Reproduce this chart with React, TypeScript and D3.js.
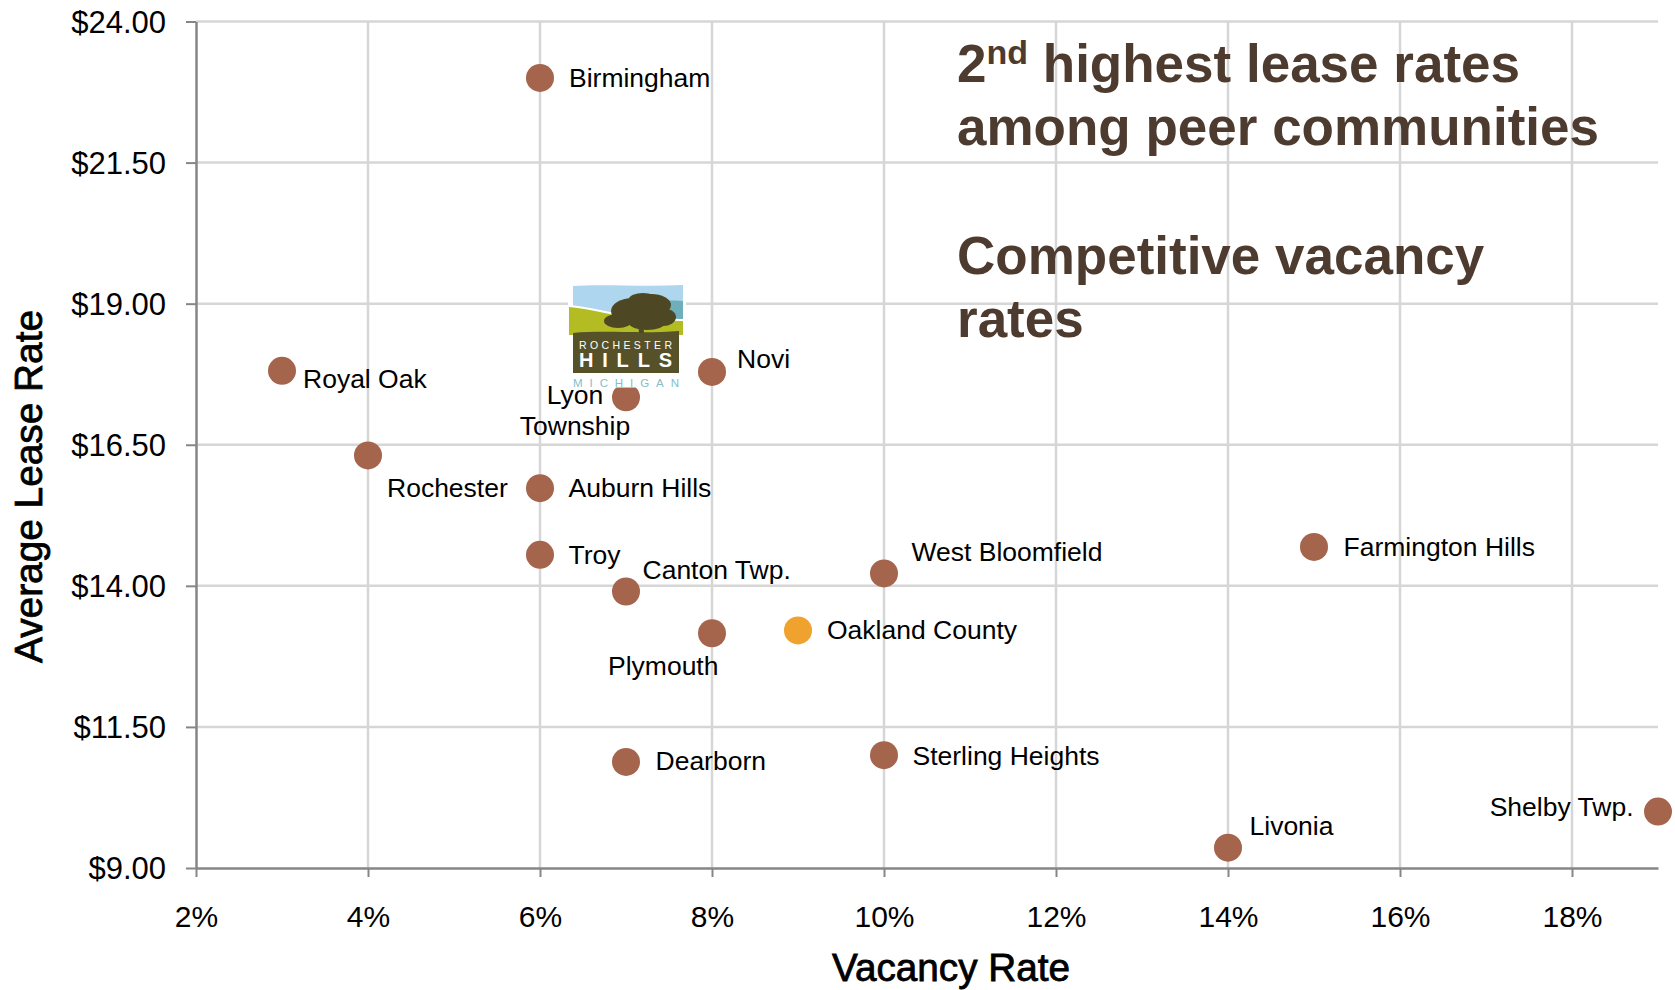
import React, { useEffect, useRef } from 'react';
import * as d3 from 'd3';

// peer communities: vacancy rate (%) vs average lease rate ($/sq ft)
const cities = [
  'Birmingham', 'Royal Oak', 'Rochester', 'Novi', 'Lyon Township', 'Auburn Hills',
  'Troy', 'Canton Twp.', 'Plymouth', 'Oakland County', 'West Bloomfield',
  'Farmington Hills', 'Dearborn', 'Sterling Heights', 'Livonia', 'Shelby Twp.',
];
const vacancyRates = [6, 3, 4, 8, 7, 6, 6, 7, 8, 9, 10, 15, 7, 10, 14, 19];
const leaseRates = [23.0, 17.81, 16.31, 17.79, 17.34, 15.73, 14.55, 13.9, 13.16, 13.21, 14.22, 14.69, 10.88, 11.0, 9.36, 10.0];
const highlightCity = 'Oakland County';

// Rochester Hills is shown by its logo instead of a dot
const logoCity = 'Rochester Hills';
const logoVacancy = 7;
const logoLease = 18.4;

const xTicks = [2, 4, 6, 8, 10, 12, 14, 16, 18];
const yTicks = [9, 11.5, 14, 16.5, 19, 21.5, 24];

const WIDTH = 1675;
const HEIGHT = 990;
const MARGINS = { top: 21.5, right: 17, bottom: 122, left: 196 };

const FONT = "'Liberation Sans', Arial, sans-serif";
const DOT = '#a5644c';
const DOT_HIGHLIGHT = '#f0a22e';
const AXIS = '#868686';
const GRID = '#d6d6d6';
const HEADLINE = '#4e3b2f';

// label placement relative to the dot (pixels)
const labelPos: Record<string, { dx: number; dy: number; anchor?: string; wrap?: boolean }> = {
  'Birmingham': { dx: 29, dy: 9 },
  'Royal Oak': { dx: 21, dy: 17 },
  'Rochester': { dx: 19, dy: 42 },
  'Novi': { dx: 25, dy: -4 },
  'Lyon Township': { dx: -51, dy: 7, anchor: 'middle', wrap: true },
  'Auburn Hills': { dx: 28.5, dy: 9 },
  'Troy': { dx: 28.5, dy: 9 },
  'Canton Twp.': { dx: 16.5, dy: -12 },
  'Plymouth': { dx: -104, dy: 42 },
  'Oakland County': { dx: 29, dy: 9 },
  'West Bloomfield': { dx: 27.5, dy: -12 },
  'Dearborn': { dx: 29.5, dy: 8.5 },
  'Sterling Heights': { dx: 28.5, dy: 9.5 },
  'Farmington Hills': { dx: 29.5, dy: 9.5 },
  'Livonia': { dx: 21.5, dy: -12.5 },
  'Shelby Twp.': { dx: -24.5, dy: 4.5, anchor: 'end' },
};

const RochesterHillsLogo = ({ cx, cy }: { cx: number; cy: number }) => (
  <g transform={`translate(${cx - 53}, ${cy - 52.5})`} aria-label={logoCity}>
    <rect x={-5} y={-2} width={118} height={104.5} fill="#fff" />
    <path d="M 0 1 C 30 -1, 70 2, 110 0 L 110 40 L 0 40 Z" fill="#aed6ef" />
    <path d="M 30 32 C 55 18, 80 14, 110 16 L 110 40 L 30 40 Z" fill="#6eafb9" />
    <path d="M -4 21 C 20 23, 40 30, 60 32 C 80 34, 95 35, 110 35 L 110 50 L -4 50 Z" fill="#b4bc24" />
    <path d="M -4 21 C 20 23, 40 30, 60 32 C 80 34, 95 35, 110 35" fill="none" stroke="#fff" strokeWidth={2} />
    <path d="M 0 48 C 30 45, 70 49, 106 46 L 106 88 L 0 88 Z" fill="#57512a" />
    <g fill="#4d4823">
      <ellipse cx={60} cy={26} rx={22} ry={13} />
      <ellipse cx={78} cy={20} rx={20} ry={11} />
      <ellipse cx={90} cy={32} rx={13} ry={9} />
      <ellipse cx={45} cy={36} rx={14} ry={7} />
      <ellipse cx={70} cy={14} rx={14} ry={6} />
      <ellipse cx={74} cy={38} rx={18} ry={7} />
      <path d="M 65 36 L 66 48 L 71 48 L 70 36 Z" />
    </g>
    <text x={6} y={64} fontFamily={FONT} fontSize={10.5} fill="#fff" textLength={93} lengthAdjust="spacing">ROCHESTER</text>
    <text x={6} y={82} fontFamily={FONT} fontSize={20} fontWeight="bold" fill="#fff" textLength={93} lengthAdjust="spacing">HILLS</text>
    <text x={0} y={101.5} fontFamily={FONT} fontSize={11.5} fill="#80c0cb" textLength={106} lengthAdjust="spacing">MICHIGAN</text>
  </g>
);

const App = () => {
  const xAxisRef = useRef<SVGGElement>(null);
  const yAxisRef = useRef<SVGGElement>(null);

  const x = d3.scaleLinear().domain([2, 19]).range([MARGINS.left, WIDTH - MARGINS.right]);
  const y = d3.scaleLinear().domain([9, 24]).range([HEIGHT - MARGINS.bottom, MARGINS.top]);

  const points = cities.map((name, i) => ({ name, vacancy: vacancyRates[i], lease: leaseRates[i] }));

  useEffect(() => {
    const xAxis = d3.select(xAxisRef.current!);
    xAxis.selectAll('*').remove();
    xAxis
      .call(d3.axisBottom(x).tickValues(xTicks).tickSize(9).tickSizeOuter(0).tickPadding(50)
        .tickFormat((d) => `${d}%`))
      .call((g) => g.select('.domain').attr('stroke', AXIS).attr('stroke-width', 2.5))
      .call((g) => g.selectAll('.tick line').attr('stroke', AXIS).attr('stroke-width', 2))
      .call((g) => g.selectAll('.tick text').attr('fill', '#000').attr('font-size', 30)
        .attr('font-family', FONT).attr('dy', 0));

    const yAxis = d3.select(yAxisRef.current!);
    yAxis.selectAll('*').remove();
    yAxis
      .call(d3.axisLeft(y).tickValues(yTicks).tickSize(10).tickSizeOuter(0).tickPadding(20)
        .tickFormat(d3.format('$.2f')))
      .call((g) => g.select('.domain').attr('stroke', AXIS).attr('stroke-width', 2.5))
      .call((g) => g.selectAll('.tick line').attr('stroke', AXIS).attr('stroke-width', 2))
      .call((g) => g.selectAll('.tick text').attr('fill', '#000').attr('font-size', 31)
        .attr('font-family', FONT).attr('dy', '0.35em'));
  }, []);

  const x0 = MARGINS.left;
  const x1 = WIDTH - MARGINS.right;
  const y0 = HEIGHT - MARGINS.bottom;
  const y1 = MARGINS.top;

  return (
    <svg width={WIDTH} height={HEIGHT} style={{ position: 'absolute', left: 0, top: 0, background: '#fff' }}>
      <g>
        {xTicks.filter((t) => t !== 2).map((t) => (
          <line key={`gx${t}`} x1={x(t)} x2={x(t)} y1={y0} y2={y1} stroke={GRID} strokeWidth={2.5} />
        ))}
        {yTicks.filter((t) => t !== 9).map((t) => (
          <line key={`gy${t}`} x1={x0} x2={x1} y1={y(t)} y2={y(t)} stroke={GRID} strokeWidth={2.5} />
        ))}
      </g>

      <g ref={xAxisRef} transform={`translate(0, ${y0})`} />
      <g ref={yAxisRef} transform={`translate(${x0}, 0)`} />

      <g fontFamily={FONT} fontSize={38} fill="#000" stroke="#000" strokeWidth={0.8}>
        <text x={951} y={981} textAnchor="middle" textLength={238} lengthAdjust="spacingAndGlyphs">
          Vacancy Rate
        </text>
        <text transform={`translate(42, 486.5) rotate(-90)`} textAnchor="middle"
          textLength={353} lengthAdjust="spacingAndGlyphs">
          Average Lease Rate
        </text>
      </g>

      <g>
        {points.map((p) => (
          <circle key={p.name} cx={x(p.vacancy)} cy={y(p.lease)} r={14}
            fill={p.name === highlightCity ? DOT_HIGHLIGHT : DOT} />
        ))}
      </g>

      <RochesterHillsLogo cx={x(logoVacancy)} cy={y(logoLease)} />

      <g fontFamily={FONT} fontSize={26.5} fill="#000">
        {points.map((p) => {
          const pos = labelPos[p.name];
          const px = x(p.vacancy) + pos.dx;
          const py = y(p.lease) + pos.dy;
          if (pos.wrap) {
            return (
              <text key={p.name} x={px} y={py} textAnchor={pos.anchor || 'start'}>
                {p.name.split(' ').map((w, i) => (
                  <tspan key={w} x={px} dy={i === 0 ? 0 : 30.5}>{w}</tspan>
                ))}
              </text>
            );
          }
          return (
            <text key={p.name} x={px} y={py} textAnchor={pos.anchor || 'start'}>{p.name}</text>
          );
        })}
      </g>

      <g fontFamily={FONT} fontWeight="bold" fontSize={53} fill={HEADLINE}>
        <text x={957} y={82}>
          <tspan>2</tspan>
          <tspan fontSize={34} dy={-18}>nd</tspan>
          <tspan dy={18}> highest lease rates</tspan>
        </text>
        <text x={957} y={145}>among peer communities</text>
        <text x={957} y={274}>Competitive vacancy</text>
        <text x={957} y={337}>rates</text>
      </g>
    </svg>
  );
};

export default App;
